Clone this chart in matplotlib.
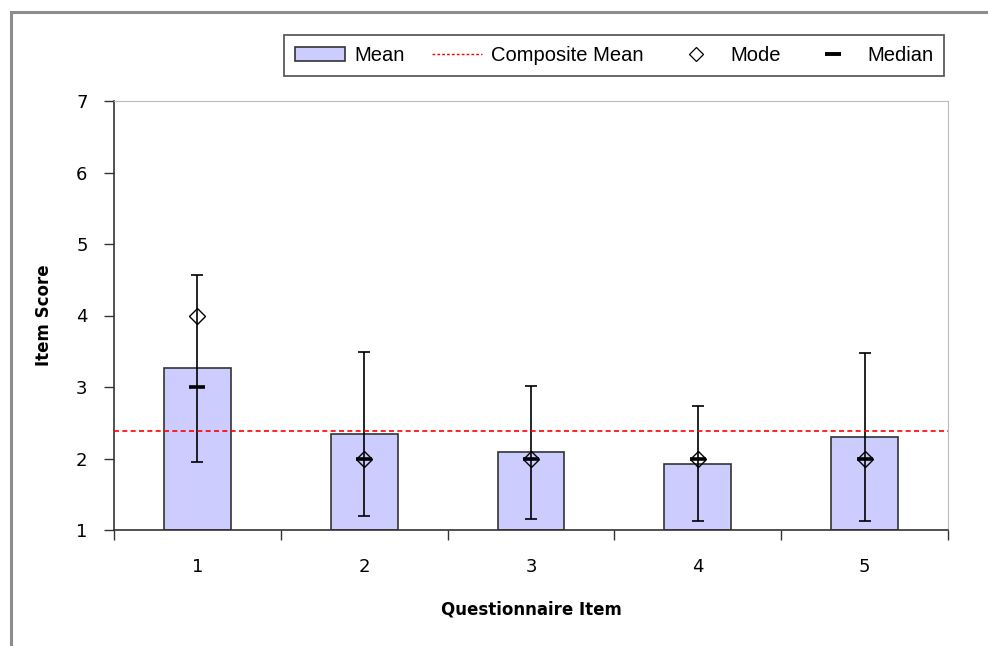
import matplotlib.pyplot as plt
from matplotlib.lines import Line2D
from matplotlib.patches import Patch, Rectangle

items = [1, 2, 3, 4, 5]
means = [3.26, 2.34, 2.09, 1.93, 2.30]
sds = [1.31, 1.15, 0.93, 0.81, 1.17]
modes = [4, 2, 2, 2, 2]
medians = [3, 2, 2, 2, 2]
composite_mean = 2.39

bar_color = "#ccccff"

fig = plt.figure(figsize=(9.88, 6.46), dpi=100)
ax = fig.add_axes([114 / 988, 1 - 530 / 646, (948 - 114) / 988, (530 - 101) / 646])

# outer chart frame (left and top visible)
fig.patches.append(Rectangle((11 / 988, -0.2), 1.5, 1.2 - 12 / 646,
                             transform=fig.transFigure, fill=False,
                             edgecolor="#8c8c8c", linewidth=2.2))

ax.bar(items, [m - 1 for m in means], bottom=1, width=0.4, color=bar_color,
       edgecolor="#333333", linewidth=1.2, zorder=2)
ax.errorbar(items, means, yerr=sds, fmt="none", ecolor="black", elinewidth=1.2,
            capsize=4.5, capthick=1.2, zorder=3)
ax.axhline(composite_mean, color="red", linestyle=(0, (3, 2)), linewidth=1.2, zorder=4)
ax.plot(items, medians, linestyle="none", marker="_", markersize=12,
        markeredgewidth=2.6, color="black", zorder=5)
ax.plot(items, modes, linestyle="none", marker="D", markersize=8,
        markerfacecolor="none", markeredgecolor="black", markeredgewidth=1.0, zorder=6)

ax.set_xlim(0.5, 5.5)
ax.set_ylim(1, 7)
ax.set_yticks(range(1, 8))
ax.set_xticks(items)
ax.set_xticks([0.5, 1.5, 2.5, 3.5, 4.5, 5.5], minor=True)
ax.tick_params(axis="x", which="major", length=0, pad=20, labelsize=13)
ax.tick_params(axis="x", which="minor", length=7, width=1, color="#333333")
ax.tick_params(axis="y", length=7, width=1, color="#333333", pad=12, labelsize=13)

for side in ["top", "right"]:
    ax.spines[side].set_color("#bbbbbb")
for side in ["left", "bottom"]:
    ax.spines[side].set_color("#333333")
    ax.spines[side].set_linewidth(1.2)

ax.set_ylabel("Item Score", fontsize=12, fontweight="bold", labelpad=17)
ax.set_xlabel("Questionnaire Item", fontsize=12, fontweight="bold", labelpad=18)

handles = [
    Patch(facecolor=bar_color, edgecolor="#333333", linewidth=1.2),
    Line2D([], [], color="red", linestyle=(0, (2, 1.5)), linewidth=1.0),
    Line2D([], [], linestyle="none", marker="D", markersize=7.5,
           markerfacecolor="none", markeredgecolor="black", markeredgewidth=0.9),
    Line2D([], [], linestyle="none", marker="_", markersize=12,
           markeredgewidth=2.8, color="black"),
]
labels = ["Mean", "Composite Mean", "Mode", "Median"]
leg = fig.legend(handles, labels, loc="center", bbox_to_anchor=(614 / 988, 1 - 55.5 / 646),
                 ncol=4, frameon=True, fancybox=False, edgecolor="#333333",
                 prop={"family": "Liberation Sans", "size": 14.5},
                 handlelength=2.5, handleheight=0.75, handletextpad=0.45,
                 columnspacing=1.35, borderpad=0.55, borderaxespad=0)
leg.get_frame().set_linewidth(1.3)

fig.savefig("out.png", dpi=100)
